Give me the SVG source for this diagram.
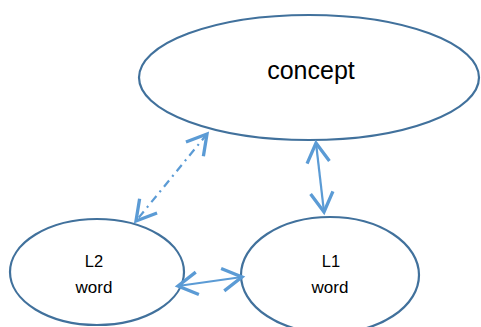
<svg xmlns="http://www.w3.org/2000/svg" width="481" height="327" viewBox="0 0 481 327">
<style>
.node{fill:#fff;stroke:#41719C;stroke-width:2.2}
.lbl{font-family:"Liberation Sans",Arial,sans-serif;fill:#000;text-anchor:middle}
.conn{fill:none;stroke:#5B9BD5;stroke-width:2.2;marker-start:url(#ah);marker-end:url(#ah)}
</style>
<defs>
<marker id="ah" markerUnits="userSpaceOnUse" markerWidth="30" markerHeight="30" refX="0" refY="0" viewBox="-16 -10 20 20" orient="auto-start-reverse">
<path d="M-13,-7.5 L0,0 L-13,7.5" fill="none" stroke="#5B9BD5" stroke-width="2.2" stroke-linejoin="miter"/>
</marker>
</defs>
<rect width="481" height="327" fill="#fff"/>
<g id="concept">
<ellipse class="node" cx="309" cy="77.5" rx="170" ry="62.5"/>
<text class="lbl" x="311" y="79" font-size="25">concept</text>
</g>
<g id="l2word">
<ellipse class="node" cx="97" cy="272" rx="87" ry="53"/>
<text class="lbl" x="94" y="267" font-size="16.5">L2</text>
<text class="lbl" x="94" y="293" font-size="17">word</text>
</g>
<g id="l1word">
<ellipse class="node" cx="330" cy="275" rx="89" ry="58"/>
<text class="lbl" x="331" y="267" font-size="16.5">L1</text>
<text class="lbl" x="330" y="293" font-size="17">word</text>
</g>
<g id="connectors">
<line class="conn" x1="207" y1="134" x2="136" y2="221" stroke-dasharray="8,5,2,5"/>
<line class="conn" x1="316" y1="143" x2="324" y2="212"/>
<line class="conn" x1="178" y1="286" x2="242" y2="277"/>
</g>
</svg>
